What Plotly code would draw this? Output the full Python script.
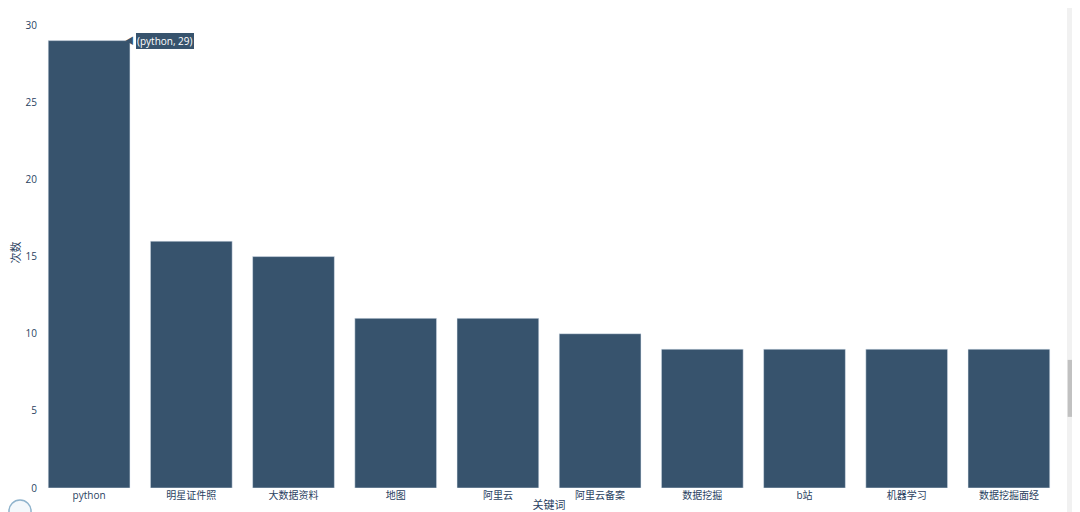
import plotly.graph_objects as go

categories = ["python", "明星证件照", "大数据资料", "地图", "阿里云", "阿里云备案", "数据挖掘", "b站", "机器学习", "数据挖掘面经"]
counts = [29, 16, 15, 11, 11, 10, 9, 9, 9, 9]

bar_color = "#37536d"
text_color = "#2a3f5f"
font_family = "Open Sans, Noto Sans CJK SC, sans-serif"

fig = go.Figure()
fig.add_trace(go.Bar(
    x=categories, y=counts,
    marker=dict(color=bar_color, line=dict(color="#E5ECF6", width=0.5)),
))

fig.update_layout(
    width=1072, height=504,
    template=None,
    paper_bgcolor="white", plot_bgcolor="white",
    margin=dict(l=30, r=20, t=9, b=24),
    bargap=0.2,
    showlegend=False,
    font=dict(family=font_family, size=11, color=text_color),
    xaxis=dict(
        title=dict(text="关键词", standoff=0, font=dict(size=11)),
        showgrid=False, zeroline=False, showline=False, ticks="",
        tickfont=dict(size=10), automargin=False,
    ),
    yaxis=dict(
        title=dict(text="次数", standoff=2, font=dict(size=11)),
        range=[0, 30.53], dtick=5,
        showgrid=False, zeroline=False, showline=False, ticks="",
        tickfont=dict(size=10), automargin=False,
    ),
)

# hover-style label on the tallest bar
fig.add_annotation(
    x=categories[0], y=counts[0],
    text=f"({categories[0]}, {counts[0]})",
    xanchor="left", yanchor="middle", xshift=46,
    showarrow=False,
    bgcolor=bar_color, bordercolor="white", borderwidth=1, borderpad=1,
    font=dict(color="white", size=10, family=font_family),
)
fig.add_annotation(
    x=categories[0], y=counts[0],
    text="◀", xanchor="right", yanchor="middle", xshift=47,
    showarrow=False, font=dict(color=bar_color, size=9),
)

# browser scrollbar decoration
fig.add_shape(type="rect", xref="paper", yref="paper", x0=1.0068, x1=1.0196, y0=-0.051, y1=1.036,
              fillcolor="#f1f1f1", line_width=0, layer="above")
fig.add_shape(type="rect", xref="paper", yref="paper", x0=1.0075, x1=1.019, y0=0.151, y1=0.272,
              fillcolor="#c1c1c1", line_width=0, layer="above")
# partial page icon at bottom-left
fig.add_shape(type="circle", xref="paper", yref="paper", x0=-0.0284, x1=-0.0068, y0=-0.0722, y1=-0.0255,
              fillcolor="#f4f8fb", line=dict(color="#8fb3cc", width=1.5), layer="above")

fig.write_html("out.html")
